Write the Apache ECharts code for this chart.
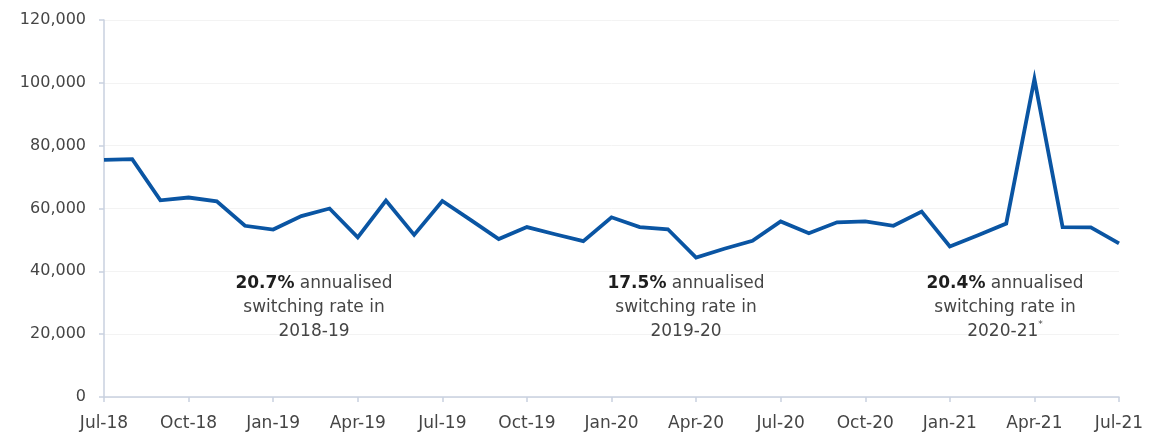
<!DOCTYPE html>
<html>
<head>
<meta charset="utf-8">
<style>
  html, body { margin: 0; padding: 0; background: #ffffff; }
  #chart { width: 1153px; height: 435px; }
</style>
<script src="https://cdn.jsdelivr.net/npm/echarts@6/dist/echarts.min.js"></script>
</head>
<body>
<div id="chart"></div>
<script>
// Monthly switches, Jul-18 to Jul-21
const months = [
  'Jul-18','Aug-18','Sep-18','Oct-18','Nov-18','Dec-18',
  'Jan-19','Feb-19','Mar-19','Apr-19','May-19','Jun-19',
  'Jul-19','Aug-19','Sep-19','Oct-19','Nov-19','Dec-19',
  'Jan-20','Feb-20','Mar-20','Apr-20','May-20','Jun-20',
  'Jul-20','Aug-20','Sep-20','Oct-20','Nov-20','Dec-20',
  'Jan-21','Feb-21','Mar-21','Apr-21','May-21','Jun-21',
  'Jul-21'
];
const switches = [
  75500, 75700, 62600, 63500, 62300, 54500,
  53300, 57600, 60000, 50800, 62500, 51600,
  62400, 56400, 50300, 54100, 51800, 49600,
  57200, 54100, 53400, 44400, 47200, 49700,
  55900, 52100, 55600, 55900, 54500, 59000,
  47900, 51500, 55200, 101200, 54100, 54000,
  48900
];
const yTicks = [0, 20000, 40000, 60000, 80000, 100000, 120000];
const notes = [
  { rate: '20.7%', year: '2018-19', star: '' },
  { rate: '17.5%', year: '2019-20', star: '' },
  { rate: '20.4%', year: '2020-21', star: '*' }
];

const FONT = '"DejaVu Sans", sans-serif';
const TXT = '#454545';
const AXIS = '#c9d1df';

const chart = echarts.init(document.getElementById('chart'), null, { renderer: 'canvas' });

// Annotation blocks under the line, one per switching year
const noteCenters = [314, 686, 1005];
const graphics = notes.map((n, i) => ({
  type: 'text',
  z: 100,
  x: noteCenters[i],
  y: 272,
  style: {
    text: '{b|' + n.rate + '}{r| annualised}\n{r|switching rate in}\n{r|' + n.year + '}' + (n.star ? '{s|' + n.star + '}' : ''),
    align: 'center',
    verticalAlign: 'top',
    fill: TXT,
    font: '17px ' + FONT,
    rich: {
      b: { fontFamily: FONT, fontSize: 17, fontWeight: 'bold', fill: '#1e1e1e', lineHeight: 24 },
      r: { fontFamily: FONT, fontSize: 17, fill: TXT, lineHeight: 24 },
      s: { fontFamily: FONT, fontSize: 9, fill: TXT, lineHeight: 24, verticalAlign: 'top', padding: [0, 0, 10, 0] }
    }
  }
}));

chart.setOption({
  animation: false,
  backgroundColor: '#ffffff',
  grid: { left: 104, right: 34, top: 20, bottom: 38, containLabel: false },
  xAxis: {
    type: 'category',
    data: months,
    boundaryGap: false,
    axisLine: { lineStyle: { color: AXIS, width: 1.5 } },
    axisTick: { show: true, interval: 2, length: 5, lineStyle: { color: AXIS, width: 1.5 } },
    axisLabel: { interval: 2, color: TXT, fontFamily: FONT, fontSize: 17, margin: 18 },
    splitLine: { show: false }
  },
  yAxis: {
    type: 'value',
    min: yTicks[0],
    max: yTicks[yTicks.length - 1],
    interval: yTicks[1] - yTicks[0],
    axisLine: { show: true, lineStyle: { color: AXIS, width: 1.5 } },
    axisTick: { show: true, length: 5, lineStyle: { color: AXIS, width: 1.5 } },
    axisLabel: {
      color: TXT, fontFamily: FONT, fontSize: 16, margin: 18,
      formatter: v => v.toLocaleString('en-GB')
    },
    splitLine: { show: true, lineStyle: { color: '#f3f3f3', width: 1 } }
  },
  series: [{
    type: 'line',
    data: switches,
    symbol: 'none',
    lineStyle: { color: '#0a55a3', width: 3.8, join: 'miter' },
    itemStyle: { color: '#0a55a3' }
  }],
  graphic: graphics
});
</script>
</body>
</html>
